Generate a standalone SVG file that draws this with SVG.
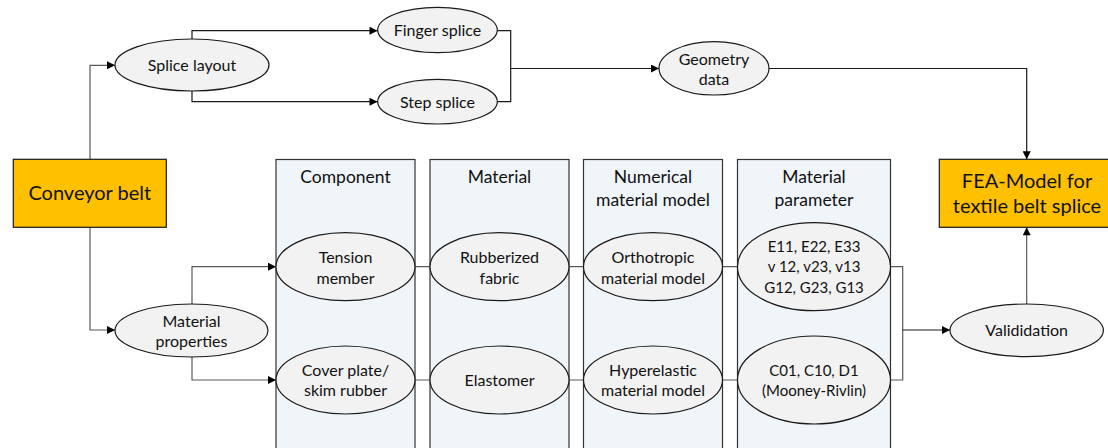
<svg xmlns="http://www.w3.org/2000/svg" width="1108" height="448" viewBox="0 0 1108 448">
<style>
text{font-family:Lato,"Liberation Sans",sans-serif;fill:#111;text-anchor:middle}
.t{font-size:16px}
.p{font-size:15px}
.h{font-size:17.5px}
.big{font-size:20px}
.ell{fill:#f2f2f2;stroke:#1a1a1a;stroke-width:1.2}
.col{fill:#f0f5fa;stroke:#333;stroke-width:1.2}
.box{fill:#ffc000;stroke:#1a1a1a;stroke-width:1.2}
.c{fill:none;stroke:#1a1a1a;stroke-width:1.2}
.g{fill:none;stroke:#595959;stroke-width:1.2}
</style>
<defs>
<marker id="arr" viewBox="0 0 10 10" refX="10" refY="5" markerWidth="11" markerHeight="8" markerUnits="userSpaceOnUse" orient="auto"><path d="M0,0 L10,5 L0,10 z" fill="#000"/></marker>
</defs>
<g id="columns">
<g id="col-component"><rect class="col" x="276" y="159.5" width="139" height="300"/><text class="h" x="345.5" y="183">Component</text></g>
<g id="col-material"><rect class="col" x="430" y="159.5" width="139" height="300"/><text class="h" x="499.5" y="183">Material</text></g>
<g id="col-numerical"><rect class="col" x="583.5" y="159.5" width="139" height="300"/><text class="h" x="653" y="183">Numerical</text><text class="h" x="653" y="206">material model</text></g>
<g id="col-parameter"><rect class="col" x="737.5" y="159.5" width="153" height="300"/><text class="h" x="814" y="183">Material</text><text class="h" x="814" y="206">parameter</text></g>
</g>
<g id="connectors">
<path class="g" d="M90,159 V65.3 H115" marker-end="url(#arr)"/>
<path class="g" d="M90,227 V330 H115" marker-end="url(#arr)"/>
<path class="c" d="M192,39 V30.7 H377.5" marker-end="url(#arr)"/>
<path class="c" d="M192,91 V101.7 H377.5" marker-end="url(#arr)"/>
<path class="c" d="M497.3,30.7 H510.7 V101.7 H497.3"/>
<path class="c" d="M510.7,68.5 H659" marker-end="url(#arr)"/>
<path class="c" d="M769,68.5 H1026.7 V159.3" marker-end="url(#arr)"/>
<path class="g" d="M192,304 V266.7 H276" marker-end="url(#arr)"/>
<path class="g" d="M192,357 V380 H276" marker-end="url(#arr)"/>
<path class="g" d="M415,266.7 H430 M569,266.7 H583.5 M722.5,266.7 H737.5 M415,380 H430 M569,380 H583.5 M722.5,380 H737.5"/>
<path class="g" d="M890.5,266.7 H902.7 V380 H890.5"/>
<path class="c" d="M902.7,330 H950" marker-end="url(#arr)"/>
<path class="g" d="M1026.7,304 V227.3" marker-end="url(#arr)"/>
</g>
<g id="conveyor-belt"><rect class="box" x="13.3" y="159.3" width="153" height="68"/><text class="big" x="89.8" y="200">Conveyor belt</text></g>
<g id="fea-model"><rect class="box" x="939.3" y="159.3" width="175" height="68"/><text class="big" x="1027" y="188">FEA-Model for</text><text class="big" x="1027" y="213">textile belt splice</text></g>
<g id="splice-layout"><ellipse class="ell" cx="192" cy="65" rx="77" ry="26"/><text class="t" x="192" y="70.5">Splice layout</text></g>
<g id="finger-splice"><ellipse class="ell" cx="437.5" cy="30" rx="59.8" ry="22.7"/><text class="t" x="437.5" y="36">Finger splice</text></g>
<g id="step-splice"><ellipse class="ell" cx="437.5" cy="101.7" rx="59.8" ry="22.3"/><text class="t" x="437.5" y="107.5">Step splice</text></g>
<g id="geometry-data"><ellipse class="ell" cx="714" cy="68.3" rx="55" ry="26.7"/><text class="t" x="714" y="65">Geometry</text><text class="t" x="714" y="85">data</text></g>
<g id="material-properties"><ellipse class="ell" cx="191.5" cy="330.5" rx="76.5" ry="26.5"/><text class="t" x="191.5" y="327">Material</text><text class="t" x="191.5" y="347">properties</text></g>
<g id="tension-member"><ellipse class="ell" cx="345.5" cy="266.7" rx="69.5" ry="34"/><text class="t" x="345.5" y="262.5">Tension</text><text class="t" x="345.5" y="283.5">member</text></g>
<g id="cover-plate"><ellipse class="ell" cx="345.5" cy="380" rx="69.5" ry="34"/><text class="t" x="345.5" y="376">Cover plate/</text><text class="t" x="345.5" y="396">skim rubber</text></g>
<g id="rubberized-fabric"><ellipse class="ell" cx="499.5" cy="266.7" rx="69.5" ry="34"/><text class="t" x="499.5" y="262.5">Rubberized</text><text class="t" x="499.5" y="283.5">fabric</text></g>
<g id="elastomer"><ellipse class="ell" cx="499.5" cy="380" rx="69.5" ry="34"/><text class="t" x="499.5" y="386">Elastomer</text></g>
<g id="orthotropic"><ellipse class="ell" cx="653" cy="266.7" rx="69.5" ry="34"/><text class="t" x="653" y="262.5">Orthotropic</text><text class="t" x="653" y="283.5">material model</text></g>
<g id="hyperelastic"><ellipse class="ell" cx="653" cy="380" rx="69.5" ry="34"/><text class="t" x="653" y="376">Hyperelastic</text><text class="t" x="653" y="396">material model</text></g>
<g id="orthotropic-params"><ellipse class="ell" cx="814" cy="266.7" rx="76.5" ry="44"/><text class="p" x="814" y="252">E11, E22, E33</text><text class="p" x="814" y="272">v 12, v23, v13</text><text class="p" x="814" y="292.5">G12, G23, G13</text></g>
<g id="mooney-params"><ellipse class="ell" cx="814" cy="380" rx="76.5" ry="44"/><text class="p" x="814" y="375.5">C01, C10, D1</text><text class="p" x="814" y="395.5">(Mooney-Rivlin)</text></g>
<g id="validation"><ellipse class="ell" cx="1026.7" cy="330.3" rx="76.7" ry="26.3"/><text class="t" x="1026.7" y="336">Valididation</text></g>
</svg>
